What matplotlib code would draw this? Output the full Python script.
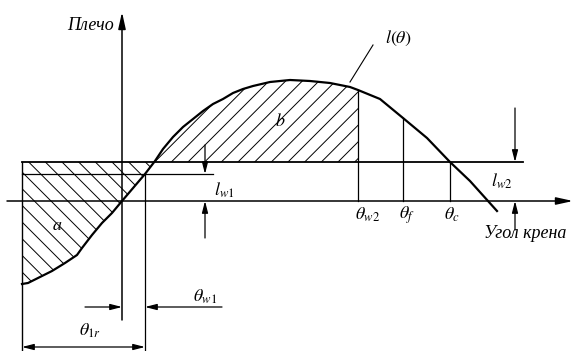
import numpy as np
import matplotlib
matplotlib.use("Agg")
import matplotlib.pyplot as plt

plt.rcParams['font.family'] = ['Liberation Serif', 'DejaVu Serif']
plt.rcParams['mathtext.fontset'] = 'stix'
plt.rcParams['hatch.linewidth'] = 0.7

# Righting-lever curve l(theta): heel angle (deg) and lever (m)
theta = [-25, -23.5, -21, -17.5, -14.25, -11.25, -10, -7.5, -5, -2.5, 0, 5.75, 8.25,
         10.25, 12.75, 15.25, 17.75, 20.25, 22.75, 25.25, 27.75, 30.25, 32.75, 37, 42,
         47, 52, 57, 59, 64.5, 70.25, 76.25, 82, 87, 93.75]
lever = [-0.415, -0.41, -0.385, -0.35, -0.31, -0.27, -0.235, -0.17, -0.11, -0.06, 0, 0.135, 0.2,
         0.26, 0.32, 0.37, 0.41, 0.45, 0.485, 0.51, 0.54, 0.56, 0.575, 0.595, 0.605,
         0.6, 0.59, 0.57, 0.555, 0.51, 0.415, 0.315, 0.195, 0.1, -0.05]

l_w1 = 0.135          # steady wind heeling lever
l_w2 = 0.195          # gust wind heeling lever
theta_w1 = 5.75       # static heel under steady wind
theta_r = -25.0       # roll-back angle start
theta_w2 = 59.0
theta_f = 70.25
theta_c = 82.0

fig = plt.figure(figsize=(5.73, 3.51), dpi=100)
ax = fig.add_axes([0, 0, 1, 1])
ax.set_xlim(-30.5, 112.75)
ax.set_ylim(-0.75, 1.005)
ax.axis('off')

k = 'black'
arw = dict(arrowstyle='-|>,head_length=0.7,head_width=0.18', color=k, lw=0.9,
           shrinkA=0, shrinkB=0)

# hatched areas
tt = np.linspace(theta_r, theta_w2, 800)
ll = np.interp(tt, theta, lever)
ax.fill_between(tt, ll, l_w2, where=(ll <= l_w2), interpolate=True,
                facecolor='none', edgecolor=k, hatch='\\\\', linewidth=0)
ax.fill_between(tt, ll, l_w2, where=(ll >= l_w2), interpolate=True,
                facecolor='none', edgecolor=k, hatch='//', linewidth=0)

# curve
ax.plot(theta, lever, color=k, lw=1.6, solid_joinstyle='round')

# axes
ax.annotate('', xy=(112.75, 0), xytext=(-28.75, 0),
            arrowprops=dict(arrowstyle='-|>,head_length=1.0,head_width=0.22', color=k, lw=1.1,
                            shrinkA=0, shrinkB=0))
ax.annotate('', xy=(0, 0.945), xytext=(0, -0.595),
            arrowprops=dict(arrowstyle='-|>,head_length=1.0,head_width=0.22', color=k, lw=1.1,
                            shrinkA=0, shrinkB=0))

# heeling lever lines
ax.plot([theta_r, 100.25], [l_w2, l_w2], color=k, lw=1.3)
ax.plot([theta_r, 22.75], [l_w1, l_w1], color=k, lw=0.9)

# vertical lines
ax.plot([theta_r, theta_r], [l_w2, -0.75], color=k, lw=1.0)
ax.plot([theta_w1, theta_w1], [l_w1, -0.75], color=k, lw=0.9)
for th in (theta_w2, theta_f, theta_c):
    ax.plot([th, th], [0, np.interp(th, theta, lever)], color=k, lw=0.9)

# l_w1 dimension
ax.annotate('', xy=(20.75, l_w1), xytext=(20.75, 0.28), arrowprops=arw)
ax.annotate('', xy=(20.75, 0), xytext=(20.75, -0.185), arrowprops=arw)
# l_w2 dimension
ax.annotate('', xy=(98.25, l_w2), xytext=(98.25, 0.465), arrowprops=arw)
ax.annotate('', xy=(98.25, 0), xytext=(98.25, -0.145), arrowprops=arw)
# theta_w1 dimension
ax.annotate('', xy=(0, -0.53), xytext=(-9.25, -0.53), arrowprops=arw)
ax.annotate('', xy=(theta_w1, -0.53), xytext=(25, -0.53), arrowprops=arw)
# theta_1r dimension
ax.annotate('', xy=(theta_w1, -0.73), xytext=(theta_r, -0.73),
            arrowprops=dict(arrowstyle='<|-|>,head_length=0.7,head_width=0.18', color=k, lw=0.9,
                            shrinkA=0, shrinkB=0))

# leader for l(theta)
ax.plot([57, 62.75], [0.595, 0.78], color=k, lw=0.8)

fs = 13
ax.text(-2.0, 0.88, 'Плечо', ha='right', va='center', fontsize=fs, style='italic')
ax.text(65.75, 0.815, r'$l(\theta)$', ha='left', va='center', fontsize=fs)
ax.text(39.5, 0.395, r'$b$', ha='center', va='center', fontsize=fs)
ax.text(-16.25, -0.125, r'$a$', ha='center', va='center', fontsize=fs)
ax.text(23, 0.055, r'$l_{w1}$', ha='left', va='center', fontsize=fs)
ax.text(97.5, 0.1, r'$l_{w2}$', ha='right', va='center', fontsize=fs)
ax.text(61.5, -0.07, r'$\theta_{w2}$', ha='center', va='center', fontsize=fs)
ax.text(71.25, -0.07, r'$\theta_{f}$', ha='center', va='center', fontsize=fs)
ax.text(82.5, -0.07, r'$\theta_{c}$', ha='center', va='center', fontsize=fs)
ax.text(100.75, -0.165, 'Угол крена', ha='center', va='center', fontsize=fs, style='italic')
ax.text(20.75, -0.48, r'$\theta_{w1}$', ha='center', va='center', fontsize=fs)
ax.text(-8, -0.65, r'$\theta_{1r}$', ha='center', va='center', fontsize=fs)

fig.savefig('out.png', dpi=100, facecolor='white')
